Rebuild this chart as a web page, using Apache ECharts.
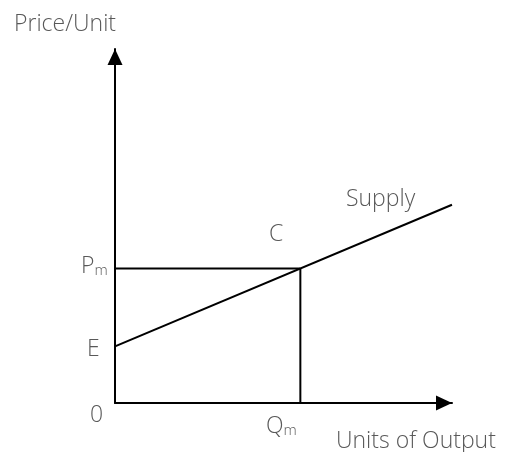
<!DOCTYPE html>
<html><head><meta charset="utf-8">
<script src="https://cdn.jsdelivr.net/npm/echarts@6/dist/echarts.min.js"></script>
<style>html,body{margin:0;padding:0;background:#fff}#c{width:509px;height:452px}</style>
</head><body><div id="c"></div>
<script>
// Data (abstract units)
const xRange = [0, 10];
const yRange = [0, 10];
const supplyLine = [[0, 1.6], [10, 5.6]];
const pm = 3.8;
const qm = 5.5;
const priceLine = [[0, pm], [qm, pm]];
const quantityLine = [[qm, 0], [qm, pm]];

const chart = echarts.init(document.getElementById('c'), null, {renderer: 'canvas'});
const font = "'Open Sans', sans-serif";
const txtColor = '#595959';
const fs = 23;
const dy = 10;
function T(x, cy, text) {
  return {type: 'text', left: x, top: cy - dy, style: {text: text, fontSize: fs, fontFamily: font, fontWeight: 300, fill: txtColor}};
}
function TS(x, cy, a, b) {
  return {type: 'text', left: x, top: cy - dy, style: {text: '{a|' + a + '}{b|' + b + '}', fill: txtColor, rich: {
    a: {fontSize: fs, fontFamily: font, fontWeight: 300, color: txtColor},
    b: {fontSize: 15, fontFamily: font, fontWeight: 300, color: txtColor, verticalAlign: 'bottom', padding: [8, 0, 0, 0]}}}};
}
const lineStyle = {color: '#000', width: 2};
chart.setOption({
  animation: false,
  grid: {left: 115, right: 57, top: 49, bottom: 49},
  xAxis: {type: 'value', min: xRange[0], max: xRange[1], splitLine: {show: false}, axisTick: {show: false}, axisLabel: {show: false},
    axisLine: {show: true, lineStyle: {color: '#000', width: 2}, symbol: ['none', 'triangle'], symbolSize: [15, 16], symbolOffset: [0, -8]}},
  yAxis: {type: 'value', min: yRange[0], max: yRange[1], splitLine: {show: false}, axisTick: {show: false}, axisLabel: {show: false},
    axisLine: {show: true, lineStyle: {color: '#000', width: 2}, symbol: ['none', 'triangle'], symbolSize: [15, 16], symbolOffset: [0, -8]}},
  series: [
    {type: 'line', data: supplyLine, symbol: 'none', lineStyle: lineStyle},
    {type: 'line', data: priceLine, symbol: 'none', lineStyle: lineStyle},
    {type: 'line', data: quantityLine, symbol: 'none', lineStyle: lineStyle}
  ],
  graphic: [
    T(14, 22.5, 'Price/Unit'),
    T(336, 440, 'Units of Output'),
    T(346, 198, 'Supply'),
    T(269, 232.5, 'C'),
    T(87, 348, 'E'),
    T(90, 414, '0'),
    TS(81, 265, 'P', 'm'),
    TS(266, 425, 'Q', 'm')
  ]
});
</script></body></html>
